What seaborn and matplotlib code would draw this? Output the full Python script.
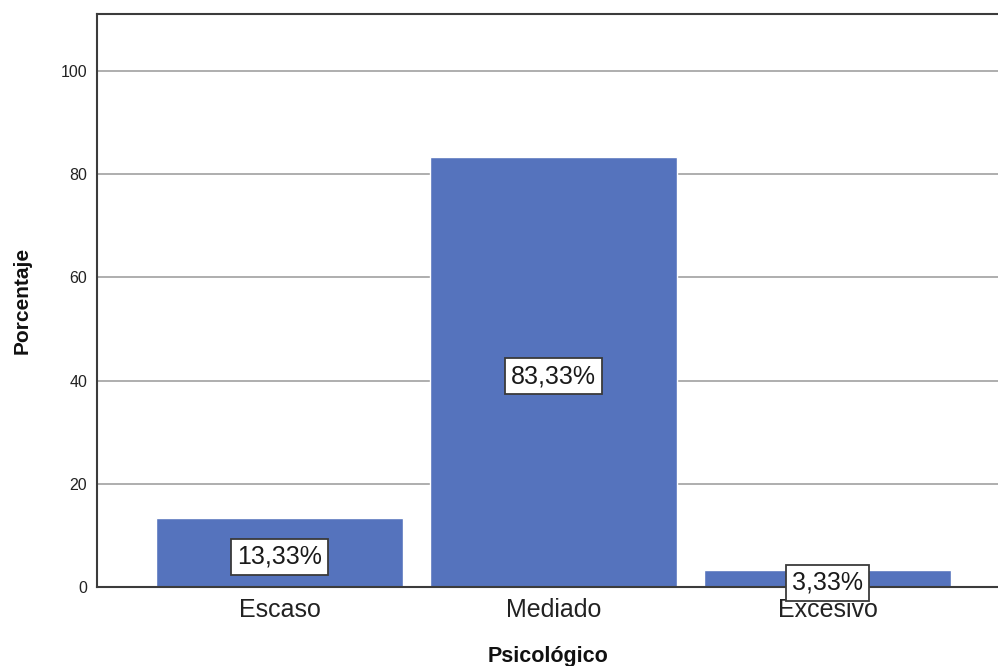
import matplotlib
matplotlib.use("Agg")
import matplotlib.pyplot as plt
import seaborn as sns
import pandas as pd

categories = ["Escaso", "Mediado", "Excesivo"]
percentages = [13.33, 83.33, 3.33]
y_ticks = [0, 20, 40, 60, 80, 100]

sns.set_theme(style="white")
plt.rcParams["font.family"] = ["Liberation Sans", "DejaVu Sans"]

df = pd.DataFrame({"Psicológico": categories, "Porcentaje": percentages})

fig = plt.figure(figsize=(9.98, 6.66), dpi=100)
ax = fig.add_axes([0.0972, 0.1186, 0.9028, 0.8604])

sns.barplot(data=df, x="Psicológico", y="Porcentaje", color="#5573BD",
            saturation=1, width=0.9, ax=ax, zorder=2)

ax.set_ylim(0, 111)
ax.set_xlim(-0.666, 2.622)
ax.set_yticks(y_ticks)
ax.set_yticklabels([str(t) for t in y_ticks], fontsize=11.5)
ax.tick_params(axis="x", labelsize=18, length=0, pad=8, colors="#222222")
ax.tick_params(axis="y", length=0, pad=7, colors="#222222")

ax.yaxis.grid(True, color="#A8A8A8", linewidth=1.3, zorder=0)
ax.set_axisbelow(True)

for side in ["left", "bottom", "top"]:
    ax.spines[side].set_visible(True)
    ax.spines[side].set_color("#3C3C3C")
    ax.spines[side].set_linewidth(1.5)
    ax.spines[side].set_zorder(3)
ax.spines["right"].set_visible(False)

for i, v in enumerate(percentages):
    ax.text(i, v / 2 - 0.8, f"{v:.2f}%".replace(".", ","), ha="center", va="center",
            fontsize=18, color="#1A1A1A", zorder=5, clip_on=False,
            bbox=dict(boxstyle="square,pad=0.24", facecolor="white",
                      edgecolor="#3A3A3A", linewidth=1.3))

ax.set_xlabel("Psicológico", fontsize=15.5, fontweight="bold", labelpad=17, color="#111111")
ax.set_ylabel("Porcentaje", fontsize=15, fontweight="bold", labelpad=21, color="#111111")

fig.savefig("out.png", dpi=100)
